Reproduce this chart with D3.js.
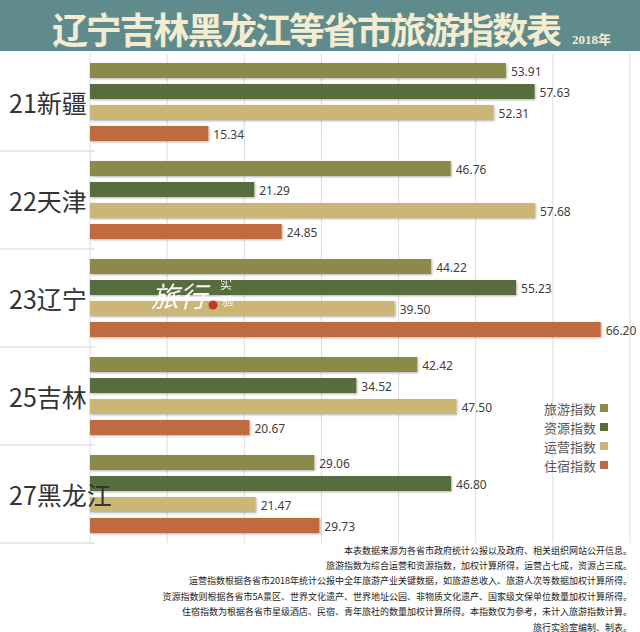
<!DOCTYPE html>
<html>
<head>
<meta charset="utf-8">
<script src="https://cdn.jsdelivr.net/npm/d3@7"></script>
<style>
  body { margin: 0; background: #fff; }
  text { font-family: "Noto Sans CJK SC", "Noto Sans", sans-serif; }
</style>
</head>
<body>
<div id="chart"></div>
<script>
// data
const cities = ["21新疆", "22天津", "23辽宁", "25吉林", "27黑龙江"];
const seriesNames = ["旅游指数", "资源指数", "运营指数", "住宿指数"];
const tourism = [53.91, 46.76, 44.22, 42.42, 29.06];
const resource = [57.63, 21.29, 55.23, 34.52, 46.80];
const operation = [52.31, 57.68, 39.50, 47.50, 21.47];
const lodging = [15.34, 24.85, 66.20, 20.67, 29.73];
const xTicks = [0, 10, 20, 30, 40, 50, 60, 70];
const notes = [
    "本表数据来源为各省市政府统计公报以及政府、相关组织网站公开信息。",
    "旅游指数为综合运营和资源指数，加权计算所得，运营占七成，资源占三成。",
    "运营指数根据各省市2018年统计公报中全年旅游产业关键数据，如旅游总收入、旅游人次等数据加权计算所得。",
    "资源指数则根据各省市5A景区、世界文化遗产、世界地址公园、非物质文化遗产、国家级文保单位数量加权计算所得。",
    "住宿指数为根据各省市星级酒店、民宿、青年旅社的数量加权计算所得。本指数仅为参考，未计入旅游指数计算。",
    "旅行实验室编制、制表。"
];

const colors = ["#8c8a4c", "#586d3c", "#cbb676", "#c06a41"];
const seriesValues = [tourism, resource, operation, lodging];

const width = 640, height = 632;

const svg = d3.select("#chart")
    .append("svg")
    .attr("width", width)
    .attr("height", height);

const defs = svg.append("defs");
const shadow = defs.append("filter").attr("id", "shadow")
    .attr("x", "-5%").attr("y", "-30%").attr("width", "110%").attr("height", "160%");
shadow.append("feDropShadow")
    .attr("dx", 1).attr("dy", 1).attr("stdDeviation", 0.8)
    .attr("flood-color", "#000").attr("flood-opacity", 0.3);

// banner
svg.append("rect")
    .attr("x", 0).attr("y", 0)
    .attr("width", width).attr("height", 51)
    .attr("fill", "#5f8b8c");

svg.append("text")
    .attr("x", 52).attr("y", 28)
    .attr("dominant-baseline", "central")
    .attr("font-size", 36)
    .attr("font-weight", "bold")
    .attr("fill", "#f3ecd0")
    .attr("textLength", 510)
    .text("辽宁吉林黑龙江等省市旅游指数表");

svg.append("text")
    .attr("x", 572).attr("y", 44)
    .attr("font-size", 13)
    .attr("font-weight", "bold")
    .attr("fill", "#f3ecd0")
    .style("font-family", "'Liberation Serif', 'Noto Sans CJK SC', serif")
    .text("2018年");

// scales
const x = d3.scaleLinear().domain([0, 70]).range([90, 630]);
const y = d3.scaleBand().domain(cities).range([53, 543]);
const yInner = d3.scaleBand().domain(seriesNames).range([10, 88]).paddingInner(0.286);

// gridlines
svg.append("g")
    .selectAll("line")
    .data(xTicks)
    .join("line")
    .attr("x1", d => x(d)).attr("x2", d => x(d))
    .attr("y1", 53).attr("y2", 543)
    .attr("stroke", "#dcdcdc")
    .attr("stroke-width", 1);

// group separators on the left
svg.append("g")
    .selectAll("line")
    .data(cities.slice(1).concat(["end"]))
    .join("line")
    .attr("x1", 0).attr("x2", 95)
    .attr("y1", (d, i) => 53 + y.step() * (i + 1))
    .attr("y2", (d, i) => 53 + y.step() * (i + 1))
    .attr("stroke", "#d6d6d6");

// bars
const groups = svg.append("g")
    .selectAll("g")
    .data(cities)
    .join("g")
    .attr("transform", d => `translate(0,${y(d)})`);

groups.selectAll("rect")
    .data((d, i) => seriesNames.map((s, j) => ({ s, v: seriesValues[j][i], c: colors[j] })))
    .join("rect")
    .attr("x", x(0))
    .attr("y", d => yInner(d.s))
    .attr("width", d => x(d.v) - x(0))
    .attr("height", yInner.bandwidth())
    .attr("fill", d => d.c)
    .attr("filter", "url(#shadow)");

groups.selectAll("text")
    .data((d, i) => seriesNames.map((s, j) => ({ s, v: seriesValues[j][i] })))
    .join("text")
    .attr("x", d => x(d.v) + 5)
    .attr("y", d => yInner(d.s) + yInner.bandwidth() / 2 + 1)
    .attr("dominant-baseline", "central")
    .attr("font-size", 12)
    .attr("fill", "#404040")
    .style("font-family", "'Noto Sans', sans-serif")
    .text(d => d.v.toFixed(2));

// city labels, on top of the bars
svg.append("g")
    .selectAll("text")
    .data(cities)
    .join("text")
    .attr("x", 9)
    .attr("y", d => y(d) + y.bandwidth() / 2)
    .attr("dominant-baseline", "central")
    .attr("font-size", 25)
    .attr("fill", "#333")
    .text(d => d);

// watermark
const wm = svg.append("g").attr("fill", "#fff").attr("opacity", 0.95);
wm.append("text")
    .attr("x", 151).attr("y", 307)
    .attr("font-size", 28)
    .attr("font-style", "italic")
    .text("旅行");
wm.append("text")
    .attr("x", 220).attr("y", 289)
    .attr("font-size", 12)
    .text("实");
wm.append("text")
    .attr("x", 222).attr("y", 306)
    .attr("font-size", 12)
    .text("验");
svg.append("circle")
    .attr("cx", 213).attr("cy", 305).attr("r", 4.5)
    .attr("fill", "#c0392b");

// legend
const legend = svg.append("g")
    .selectAll("g")
    .data(seriesNames)
    .join("g")
    .attr("transform", (d, i) => `translate(0,${408 + i * 19})`);

legend.append("text")
    .attr("x", 596).attr("y", 0)
    .attr("text-anchor", "end")
    .attr("dominant-baseline", "central")
    .attr("font-size", 13)
    .attr("fill", "#555")
    .text(d => d);

legend.append("rect")
    .attr("x", 600).attr("y", -4)
    .attr("width", 8).attr("height", 8)
    .attr("fill", (d, i) => colors[i]);

// footnotes
svg.append("g")
    .selectAll("text")
    .data(notes)
    .join("text")
    .attr("x", 632)
    .attr("y", (d, i) => 550 + i * 15.4)
    .attr("text-anchor", "end")
    .attr("dominant-baseline", "central")
    .attr("font-size", 9)
    .attr("fill", "#222")
    .text(d => d);
</script>
</body>
</html>
